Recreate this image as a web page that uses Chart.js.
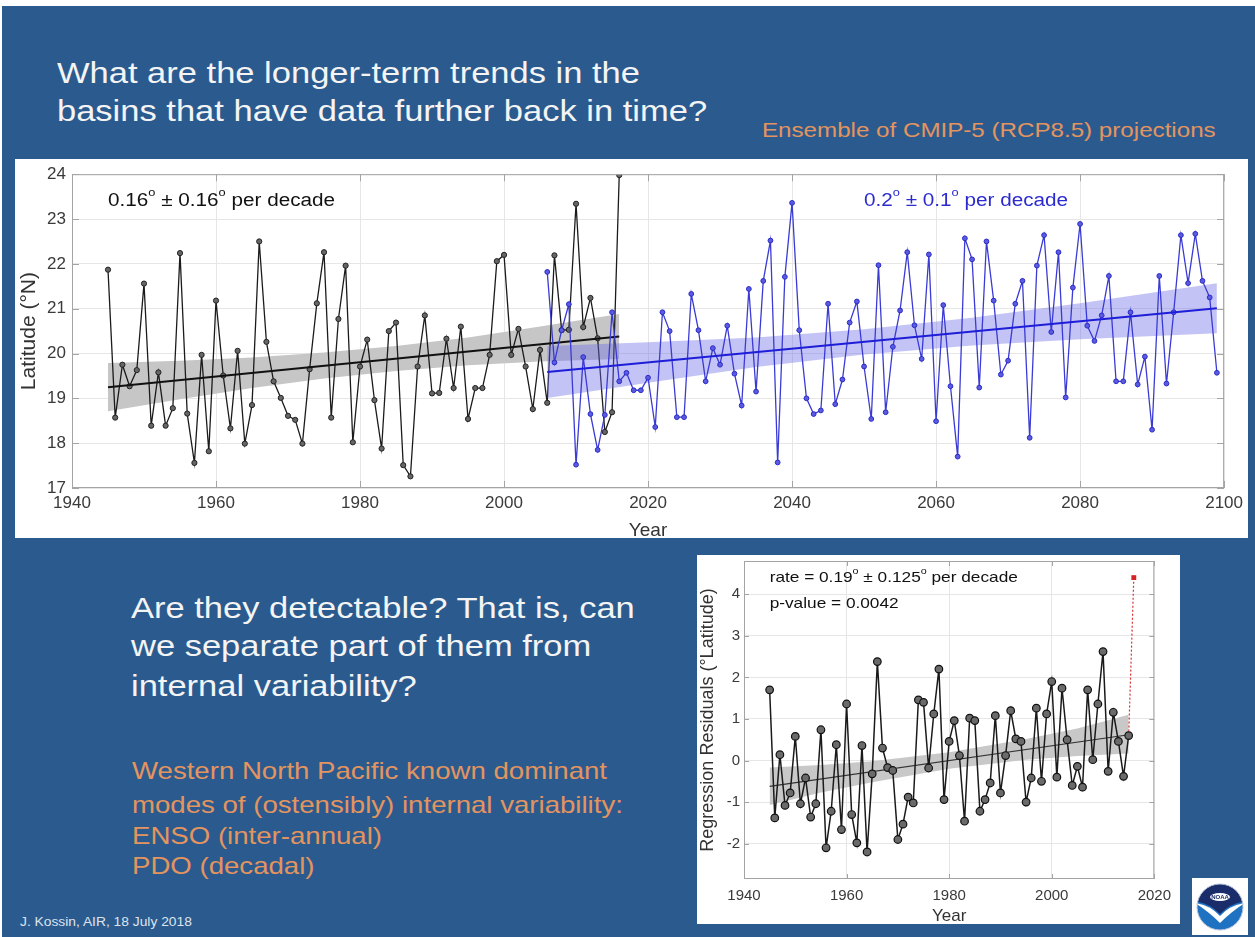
<!DOCTYPE html>
<html>
<head>
<meta charset="utf-8">
<script src="https://cdn.jsdelivr.net/npm/chart.js@4.4.1/dist/chart.umd.min.js"></script>
<style>
  body { margin: 0; background: #fff; }
  #slide { position: relative; width: 1255px; height: 937px; overflow: hidden; background: #fff;
           font-family: 'Liberation Sans', Arial, sans-serif; }
  .bg { position: absolute; left: 2px; top: 6px; right: 0; bottom: 0; background: #2b5b8e; }
  .panel { position: absolute; background: #fff; }
  .txt { position: absolute; white-space: nowrap; line-height: 1; transform: scaleX(1.15); transform-origin: 0 0; }
  .w { color: #f4f4f4; }
  .o { color: #e3945f; }
  canvas { position: absolute; }
</style>
</head>
<body>
<div id="slide">
  <div class="bg"></div>

  <div class="txt w" style="left:57px;top:58px;font-size:30px">What are the longer-term trends in the</div>
  <div class="txt w" style="left:57px;top:96px;font-size:30px">basins that have data further back in time?</div>
  <div class="txt o" style="left:762px;top:119px;font-size:21px">Ensemble of CMIP-5 (RCP8.5) projections</div>

  <div class="panel" style="left:15px;top:159px;width:1233px;height:379px"></div>
  <canvas id="topChart" width="1233" height="380" style="left:15px;top:158px"></canvas>

  <div class="txt w" style="left:131px;top:593px;font-size:30px">Are they detectable? That is, can</div>
  <div class="txt w" style="left:131px;top:631px;font-size:30px">we separate part of them from</div>
  <div class="txt w" style="left:131px;top:671px;font-size:30px">internal variability?</div>

  <div class="txt o" style="left:132px;top:759px;font-size:24px">Western North Pacific known dominant</div>
  <div class="txt o" style="left:132px;top:793px;font-size:24px">modes of (ostensibly) internal variability:</div>
  <div class="txt o" style="left:132px;top:824px;font-size:24px">ENSO (inter-annual)</div>
  <div class="txt o" style="left:132px;top:854px;font-size:24px">PDO (decadal)</div>

  <div class="txt" style="left:20px;top:916px;font-size:12px;color:#dde4ee">J. Kossin, AIR, 18 July 2018</div>

  <div class="panel" style="left:697px;top:555px;width:483px;height:369px"></div>
  <canvas id="resChart" width="482" height="376" style="left:697px;top:548px"></canvas>

  <canvas id="logo" width="56" height="57" style="left:1192px;top:878px"></canvas>
</div>

<script>
'use strict';

// observed annual mean latitude (deg N), 1945-2016
const obsStart = 1945;
const observedLat = [
    21.87, 18.57, 19.75, 19.27, 19.63, 21.56, 18.39, 19.58, 18.39, 18.78,
    22.24, 18.66, 17.56, 19.97, 17.82, 21.18, 19.51, 18.33, 20.06, 17.99,
    18.85, 22.50, 20.26, 19.38, 19.01, 18.61, 18.52, 17.99, 19.65, 21.12,
    22.26, 18.57, 20.77, 21.96, 18.02, 19.71, 20.31, 18.96, 17.88, 20.50,
    20.69, 17.51, 17.26, 19.71, 20.85, 19.11, 19.12, 20.33, 19.23, 20.60,
    18.54, 19.23, 19.23, 19.97, 22.06, 22.20, 19.97, 20.55, 19.71, 18.76,
    20.08, 18.90, 22.19, 20.52, 20.53, 23.34, 20.59, 21.24, 20.34, 18.25,
    18.69, 23.98,
];

// CMIP-5 ensemble projection, 2006-2099
const projStart = 2006;
const projectedLat = [
    21.82, 19.80, 20.52, 21.10, 17.52, 19.92, 18.65, 17.85, 18.63, 20.92,
    19.38, 19.57, 19.18, 19.18, 19.46, 18.36, 20.92, 20.50, 18.58, 18.58,
    21.33, 20.52, 19.38, 20.12, 19.75, 20.62, 19.55, 18.84, 21.44, 19.15,
    21.62, 22.52, 17.57, 21.71, 23.36, 20.52, 19.00, 18.65, 18.73, 21.11,
    18.87, 19.42, 20.69, 21.16, 19.71, 18.54, 21.97, 18.69, 20.15, 20.96,
    22.26, 20.63, 19.88, 22.21, 18.49, 21.08, 19.27, 17.70, 22.57, 22.10,
    19.24, 22.50, 21.18, 19.53, 19.84, 21.11, 21.62, 18.12, 21.96, 22.64,
    20.48, 22.26, 19.02, 21.47, 22.89, 20.62, 20.28, 20.85, 21.73, 19.38,
    19.38, 20.92, 19.31, 19.93, 18.30, 21.73, 19.33, 20.92, 22.64, 21.57,
    22.67, 21.62, 21.25, 19.57,
];

const obsTrendYears = [1945, 2016];
const obsTrendLat   = [19.25, 20.38];
const obsBandYears  = [1945, 1955, 1965, 1975, 1985, 1995, 2005, 2016];
const obsBandLow    = [18.71, 18.98, 19.23, 19.44, 19.61, 19.74, 19.82, 19.88];
const obsBandHigh   = [19.79, 19.84, 19.91, 20.02, 20.17, 20.36, 20.60, 20.88];

const projTrendYears = [2006, 2099];
const projTrendLat   = [19.59, 21.01];
const projBandYears  = [2006, 2020, 2035, 2050, 2065, 2080, 2099];
const projBandLow    = [19.01, 19.35, 19.70, 19.98, 20.18, 20.32, 20.45];
const projBandHigh   = [20.17, 20.25, 20.36, 20.54, 20.80, 21.12, 21.57];

const topYearAxis = [1940, 2100, 20];
const topLatAxis  = [17, 24, 1];

// regression residuals (deg latitude), 1945-2015
const resStart = 1945;
const residuals = [
     1.70, -1.38,  0.14, -1.08, -0.78,  0.58, -1.04, -0.42, -1.36, -1.04,
     0.74, -2.10, -1.22,  0.38, -1.66,  1.36, -1.30, -1.98,  0.36, -2.20,
    -0.32,  2.38,  0.30, -0.17, -0.24, -1.90, -1.53, -0.88, -1.02,  1.46,
     1.40, -0.18,  1.12,  2.20, -0.94,  0.46,  0.96,  0.12, -1.46,  1.02,
     0.96, -1.22, -0.94, -0.54,  1.08, -0.78,  0.12,  1.20,  0.52,  0.46,
    -1.00, -0.42,  1.26, -0.50,  1.12,  1.90, -0.40,  1.74,  0.50, -0.60,
    -0.14, -0.64,  1.70,  0.02,  1.36,  2.62, -0.26,  1.16,  0.46, -0.38,
     0.60,
];
const latestYear  = 2016;
const latestValue = 4.4;

const resTrendYears = [1945, 2015];
const resTrendVals  = [-0.62, 0.62];
const resBandYears  = [1945, 1955, 1965, 1980, 1995, 2005, 2015];
const resBandLow    = [-1.07, -0.77, -0.52, -0.20, 0.02, 0.11, 0.17];
const resBandHigh   = [-0.17, -0.11, -0.02, 0.20, 0.52, 0.77, 1.10];

const resYearAxis = [1940, 2020, 20];
const resValAxis  = [-2.85, 4.8, 1];

const FONT = "'Liberation Sans', Arial, sans-serif";

const yearly = (start, ys) => ys.map((y, i) => ({ x: start + i, y }));
const pairs  = (xs, ys) => ys.map((y, i) => ({ x: xs[i], y }));

// text with superscript "o" degree marks, slightly widened like the slide text
function drawRuns(ctx, x, y, runs, size, color) {
    ctx.save();
    ctx.translate(x, y);
    ctx.scale(1.15, 1);
    ctx.fillStyle = color;
    ctx.textBaseline = 'middle';
    let cx = 0;
    for (const [txt, sup] of runs) {
        const s = sup ? size * 0.62 : size;
        ctx.font = `${s}px ${FONT}`;
        ctx.fillText(txt, cx, sup ? -size * 0.42 : 0);
        cx += ctx.measureText(txt).width;
    }
    ctx.restore();
}

const frame = {
    id: 'frame',
    afterDatasetsDraw(chart, args, opts) {
        const { ctx, chartArea: a, scales: { x, y } } = chart;
        ctx.save();
        ctx.strokeStyle = '#a4a4a4';
        ctx.lineWidth = 1;
        ctx.strokeRect(a.left + 0.5, a.top + 0.5, a.width - 1, a.height - 1);
        const len = opts.tick || 6;
        ctx.beginPath();
        for (const t of x.ticks) {
            const px = Math.round(x.getPixelForValue(t.value)) + 0.5;
            ctx.moveTo(px, a.bottom); ctx.lineTo(px, a.bottom - len);
            ctx.moveTo(px, a.top);    ctx.lineTo(px, a.top + len);
        }
        for (const t of y.ticks) {
            const py = Math.round(y.getPixelForValue(t.value)) + 0.5;
            ctx.moveTo(a.left, py);  ctx.lineTo(a.left + len, py);
            ctx.moveTo(a.right, py); ctx.lineTo(a.right - len, py);
        }
        ctx.stroke();
        ctx.restore();
        for (const n of opts.notes || []) {
            drawRuns(ctx, x.getPixelForValue(n.x), y.getPixelForValue(n.y), n.runs, n.size, n.color);
        }
    },
};

function axes(xr, yr, o) {
    const tickFont = { family: FONT, size: o.tick };
    const intOnly = s => { s.ticks = s.ticks.filter(t => Number.isInteger(t.value)); };
    return {
        x: {
            type: 'linear', min: xr[0], max: xr[1],
            ticks: { stepSize: xr[2], padding: o.xPad, color: '#3a3a3a', font: tickFont,
                     maxRotation: 0, autoSkip: false, callback: v => String(v) },
            grid: { color: '#e6e6e6', drawTicks: false },
            border: { display: false },
            title: { display: true, text: 'Year', color: '#333', font: { family: FONT, size: o.xTitle },
                     padding: o.xTitlePad },
            afterFit: s => { s.height = o.xH; },
        },
        y: {
            min: yr[0], max: yr[1],
            ticks: { stepSize: yr[2], padding: o.yPad, color: '#3a3a3a', font: tickFont,
                     callback: v => String(v) },
            grid: { color: '#e6e6e6', drawTicks: false },
            border: { display: false },
            title: { display: true, text: o.yTitle, color: '#333', font: { family: FONT, size: o.yTitleSize },
                     padding: { top: o.yTitlePad, bottom: 0 } },
            afterBuildTicks: intOnly,
            afterFit: s => { s.width = o.yW; },
        },
    };
}

const baseOpts = {
    responsive: false,
    animation: false,
    devicePixelRatio: 1,
    events: [],
    plugins: { legend: { display: false }, tooltip: { enabled: false } },
};

new Chart(document.getElementById('topChart'), {
    type: 'line',
    data: {
        datasets: [
            { data: pairs(obsBandYears, obsBandLow), borderWidth: 0, pointRadius: 0, fill: false, order: 10 },
            { data: pairs(obsBandYears, obsBandHigh), borderWidth: 0, pointRadius: 0,
              fill: '-1', backgroundColor: '#c6c6c6', order: 9 },
            { data: yearly(obsStart, observedLat), borderColor: '#1b1b1b', borderWidth: 1.3,
              pointRadius: 2.6, pointBorderWidth: 1, pointBackgroundColor: '#666',
              pointBorderColor: '#222', order: 8 },
            { data: pairs(obsTrendYears, obsTrendLat), borderColor: '#111', borderWidth: 2,
              pointRadius: 0, order: 7 },
            { data: pairs(projBandYears, projBandLow), borderWidth: 0, pointRadius: 0, fill: false, order: 6 },
            { data: pairs(projBandYears, projBandHigh), borderWidth: 0, pointRadius: 0,
              fill: '-1', backgroundColor: 'rgba(105,105,230,0.40)', order: 5 },
            { data: yearly(projStart, projectedLat), borderColor: '#3a3ad4', borderWidth: 1.3,
              pointRadius: 2.4, pointBorderWidth: 1, pointBackgroundColor: '#5b5be0',
              pointBorderColor: '#2a2ac8', order: 4 },
            { data: pairs(projTrendYears, projTrendLat), borderColor: '#1e1ed8', borderWidth: 2,
              pointRadius: 0, order: 3 },
        ],
    },
    options: {
        ...baseOpts,
        layout: { padding: { left: 0, top: 12, right: 23, bottom: 0 } },
        scales: axes(topYearAxis, topLatAxis, {
            tick: 17, xPad: 5, yPad: 6, xH: 50, yW: 57,
            xTitle: 19, xTitlePad: -4,
            yTitle: 'Latitude (°N)', yTitleSize: 21, yTitlePad: 2,
        }),
        plugins: {
            ...baseOpts.plugins,
            frame: {
                tick: 7,
                notes: [
                    { x: 1945, y: 23.41, size: 18, color: '#111',
                      runs: [['0.16', 0], ['o', 1], [' \u00b1 0.16', 0], ['o', 1], [' per decade', 0]] },
                    { x: 2050, y: 23.41, size: 18, color: '#2b2bd0',
                      runs: [['0.2', 0], ['o', 1], [' \u00b1 0.1', 0], ['o', 1], [' per decade', 0]] },
                ],
            },
        },
    },
    plugins: [frame],
});

new Chart(document.getElementById('resChart'), {
    type: 'line',
    data: {
        datasets: [
            { data: pairs(resBandYears, resBandLow), borderWidth: 0, pointRadius: 0, fill: false, order: 10 },
            { data: pairs(resBandYears, resBandHigh), borderWidth: 0, pointRadius: 0,
              fill: '-1', backgroundColor: '#c8c8c8', order: 9 },
            { data: pairs(resTrendYears, resTrendVals), borderColor: '#333', borderWidth: 1.2,
              pointRadius: 0, order: 8 },
            // dotted jump from the last residual to the latest year
            { data: [{ x: resStart + residuals.length - 1, y: residuals[residuals.length - 1] },
                     { x: latestYear, y: latestValue }],
              borderColor: '#d83030', borderWidth: 1.2, borderDash: [2, 2],
              pointRadius: [0, 2.6], pointStyle: 'rect', pointBackgroundColor: '#d42424',
              pointBorderColor: '#d42424', order: 7 },
            { data: yearly(resStart, residuals), borderColor: '#1a1a1a', borderWidth: 1.5,
              pointRadius: 3.8, pointBorderWidth: 1.2, pointBackgroundColor: '#6a6a6a',
              pointBorderColor: '#111', order: 6 },
        ],
    },
    options: {
        ...baseOpts,
        layout: { padding: { left: 0, top: 12, right: 20, bottom: 0 } },
        scales: axes(resYearAxis, resValAxis, {
            tick: 15, xPad: 8, yPad: 4, xH: 45, yW: 47,
            xTitle: 17, xTitlePad: -3,
            yTitle: 'Regression Residuals (°Latitude)', yTitleSize: 18, yTitlePad: 0,
        }),
        plugins: {
            ...baseOpts.plugins,
            frame: {
                tick: 5,
                notes: [
                    { x: 1945, y: 4.39, size: 15, color: '#111',
                      runs: [['rate = 0.19', 0], ['o', 1], [' \u00b1 0.125', 0], ['o', 1], [' per decade', 0]] },
                    { x: 1945, y: 3.77, size: 15, color: '#111', runs: [['p-value = 0.0042', 0]] },
                ],
            },
        },
    },
    plugins: [frame],
});

// NOAA emblem
(function drawLogo() {
    const g = document.getElementById('logo').getContext('2d');
    g.fillStyle = '#fff';
    g.fillRect(0, 0, 56, 57);
    g.save();
    g.beginPath(); g.arc(28, 29, 23, 0, Math.PI * 2); g.clip();
    g.fillStyle = '#1f72c2';
    g.fillRect(0, 0, 56, 57);
    g.fillStyle = '#1b2c6a';
    g.beginPath();
    g.moveTo(0, 0); g.lineTo(56, 0); g.lineTo(56, 23);
    g.quadraticCurveTo(40, 24, 28, 36);
    g.quadraticCurveTo(16, 24, 0, 23);
    g.closePath(); g.fill();
    g.fillStyle = '#fff';
    g.beginPath();
    g.moveTo(3, 25);
    g.quadraticCurveTo(18, 27, 28, 38);
    g.quadraticCurveTo(38, 27, 53, 25);
    g.quadraticCurveTo(40, 33, 28, 45);
    g.quadraticCurveTo(16, 33, 3, 25);
    g.fill();
    g.restore();
    g.strokeStyle = '#b8c4d8';
    g.lineWidth = 1;
    g.beginPath(); g.arc(28, 29, 23, 0, Math.PI * 2); g.stroke();
    g.fillStyle = '#fff';
    g.beginPath(); g.ellipse(28, 19, 10, 4, 0, 0, Math.PI * 2); g.fill();
    g.fillStyle = '#1b2c6a';
    g.font = `bold 6px ${FONT}`;
    g.textAlign = 'center'; g.textBaseline = 'middle';
    g.fillText('NOAA', 28, 19.5);
})();
</script>
</body>
</html>
